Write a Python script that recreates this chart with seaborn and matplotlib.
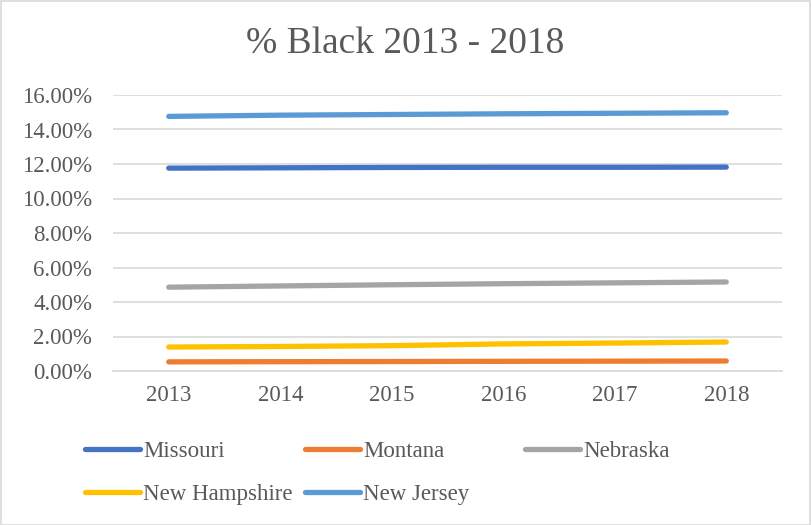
import matplotlib
matplotlib.use("Agg")
import matplotlib.pyplot as plt
from matplotlib.ticker import PercentFormatter, MultipleLocator
from matplotlib.patches import Rectangle
import pandas as pd
import seaborn as sns

# Share of Black residents by state, 2013-2018
years = [2013, 2014, 2015, 2016, 2017, 2018]
states = ["Missouri", "Montana", "Nebraska", "New Hampshire", "New Jersey"]
missouri = [0.1176, 0.1178, 0.1180, 0.1181, 0.1181, 0.1182]
montana = [0.0053, 0.0054, 0.0055, 0.0056, 0.0057, 0.0058]
nebraska = [0.0486, 0.0493, 0.0500, 0.0506, 0.0511, 0.0516]
new_hampshire = [0.0139, 0.0142, 0.0147, 0.0157, 0.0162, 0.0168]
new_jersey = [0.1476, 0.1483, 0.1487, 0.1491, 0.1494, 0.1497]
colors = ["#4472C4", "#ED7D31", "#A5A5A5", "#FFC000", "#5B9BD5"]

series = [missouri, montana, nebraska, new_hampshire, new_jersey]
df = pd.DataFrame(
    [(y, s, v) for s, vals in zip(states, series) for y, v in zip(years, vals)],
    columns=["Year", "State", "Share"],
)

sns.set_theme(style="white")
plt.rcParams["font.family"] = ["Liberation Serif", "DejaVu Serif"]
text_color = "#595959"
grid_color = "#D9D9D9"

W, H, DPI = 811, 525, 100
fig = plt.figure(figsize=(W / DPI, H / DPI), dpi=DPI)
fig.patch.set_facecolor("white")
ax = fig.add_axes([113 / W, 1 - 371 / H, (782 - 113) / W, (371 - 95) / H])

sns.lineplot(
    data=df, x="Year", y="Share", hue="State", hue_order=states,
    palette=colors, linewidth=3.8, legend=False, ax=ax,
    solid_capstyle="round",
)

ax.set_xlim(2012.5, 2018.5)
ax.set_ylim(0, 0.16)
ax.yaxis.set_major_locator(MultipleLocator(0.02))
ax.yaxis.set_major_formatter(PercentFormatter(xmax=1, decimals=2))
ax.set_xticks(years)
ax.set_xticklabels([str(y) for y in years])
ax.set_xlabel("")
ax.set_ylabel("")
ax.grid(axis="y", color=grid_color, linewidth=1.2)
ax.set_axisbelow(True)
for side in ["top", "right", "left"]:
    ax.spines[side].set_visible(False)
ax.spines["bottom"].set_color(grid_color)
ax.spines["bottom"].set_linewidth(1.2)
ax.tick_params(axis="both", length=0, colors=text_color, labelsize=16.5)
ax.tick_params(axis="y", pad=15)
ax.tick_params(axis="x", pad=10)

fig.text(0.5, 1 - 53 / H, "% Black 2013 - 2018", ha="center", va="baseline",
         fontsize=27, color=text_color)

# Legend laid out in equal-width columns, row by row
lines = ax.get_lines()
handles = dict(zip(states, lines[:len(states)]))
columns = [
    (85, ["Missouri", "New Hampshire"]),
    (305, ["Montana", "New Jersey"]),
    (525, ["Nebraska"]),
]
for x0, names in columns:
    leg = fig.legend(
        [handles[n] for n in names], names,
        loc="upper left", bbox_to_anchor=(x0 / W, 1 - 441 / H),
        frameon=False, fontsize=16.5, handlelength=2.4, handletextpad=0.15,
        labelspacing=0.95, borderpad=0, borderaxespad=0,
    )
    for t in leg.get_texts():
        t.set_color(text_color)

fig.add_artist(Rectangle((0.5 / W, 0.5 / H), 1 - 1.5 / W, 1 - 1.5 / H,
                         transform=fig.transFigure, fill=False,
                         edgecolor=grid_color, linewidth=1.2))

fig.savefig("out.png", dpi=DPI)
